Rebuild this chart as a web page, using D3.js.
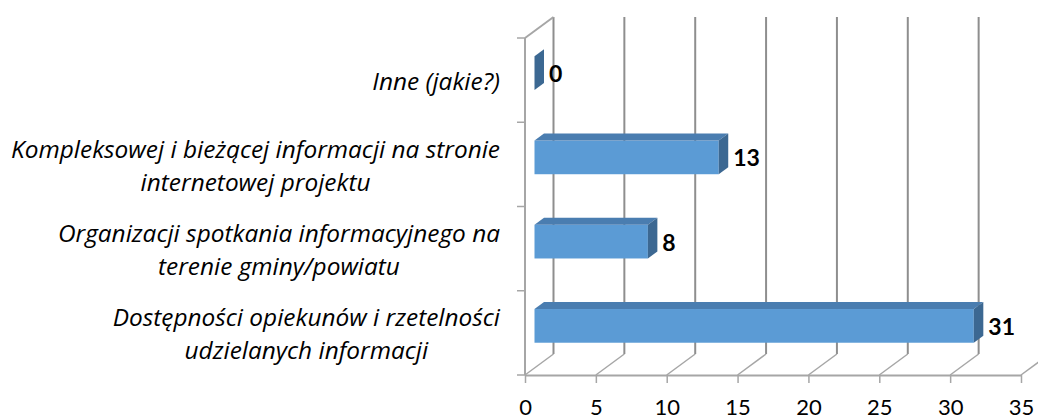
<!DOCTYPE html>
<html>
<head>
<meta charset="utf-8">
<script src="https://cdn.jsdelivr.net/npm/d3@7"></script>
<style>
  body { margin: 0; background: #fff; }
  svg { display: block; }
</style>
</head>
<body>
<svg id="chart" width="1038" height="420"></svg>
<script>
// categories from bottom to top, "\n" marks the line break of the label
const categories = [
  'Dostępności opiekunów i rzetelności\nudzielanych informacji',
  'Organizacji spotkania informacyjnego na\nterenie gminy/powiatu',
  'Kompleksowej i bieżącej informacji na stronie\ninternetowej projektu',
  'Inne (jakie?)',
]
const values = [31, 8, 13, 0]
const xTicks = [0, 5, 10, 15, 20, 25, 30, 35]

const plot = { left: 525, right: 1021, top: 38, bottom: 375 }
// 3d depth of the box (back wall offset)
const depth = { dx: 28.5, dy: -21 }
const labelRight = 500
const font = 'Lato, "Open Sans", sans-serif'
const labelFont = '"Open Sans", sans-serif'

const colors = {
  front: '#5b9bd5',
  top: '#4a7db0',
  side: '#3c6892',
  grid: '#8e8e8e',
  floor: '#a6a6a6',
}

const svg = d3.select('#chart')

const x = d3.scaleLinear().domain([0, 35]).range([plot.left, plot.right])
const y = d3
  .scaleBand()
  .domain(categories)
  .range([plot.bottom, plot.top])
  .paddingInner(0.6)
  .paddingOuter(0.3)

// back wall gridlines
svg
  .append('g')
  .attr('id', 'grid')
  .selectAll('line')
  .data(xTicks)
  .join('line')
  .attr('x1', (d) => x(d) + depth.dx)
  .attr('x2', (d) => x(d) + depth.dx)
  .attr('y1', plot.top + depth.dy)
  .attr('y2', plot.bottom + depth.dy)
  .attr('stroke', colors.grid)
  .attr('stroke-width', 2)

// floor diagonals
svg
  .append('g')
  .attr('id', 'floor')
  .selectAll('line')
  .data(xTicks)
  .join('line')
  .attr('x1', (d) => x(d))
  .attr('y1', plot.bottom)
  .attr('x2', (d) => x(d) + depth.dx)
  .attr('y2', plot.bottom + depth.dy)
  .attr('stroke', colors.floor)
  .attr('stroke-width', 1.5)

// left wall
const wall = svg.append('g').attr('id', 'leftWall')
wall
  .append('line')
  .attr('x1', plot.left)
  .attr('x2', plot.left)
  .attr('y1', plot.top)
  .attr('y2', plot.bottom)
  .attr('stroke', colors.floor)
  .attr('stroke-width', 2)
wall
  .append('line')
  .attr('x1', plot.left)
  .attr('y1', plot.top)
  .attr('x2', plot.left + depth.dx)
  .attr('y2', plot.top + depth.dy)
  .attr('stroke', colors.floor)
  .attr('stroke-width', 2)

// category ticks on the band boundaries
const step = y.step()
wall
  .selectAll('.catTick')
  .data(d3.range(categories.length + 1))
  .join('line')
  .attr('class', 'catTick')
  .attr('x1', plot.left - 8)
  .attr('x2', plot.left)
  .attr('y1', (i) => plot.bottom - i * step)
  .attr('y2', (i) => plot.bottom - i * step)
  .attr('stroke', colors.floor)
  .attr('stroke-width', 1.5)

// x axis
const xAxis = svg
  .append('g')
  .attr('id', 'xAxis')
  .attr('transform', `translate(0,${plot.bottom})`)
  .call(
    d3.axisBottom(x).tickValues(xTicks).tickSize(8).tickSizeOuter(0).tickPadding(16)
  )
xAxis.select('.domain').attr('stroke', colors.floor).attr('stroke-width', 2)
xAxis.selectAll('.tick line').attr('stroke', colors.floor).attr('stroke-width', 1.5)
xAxis
  .selectAll('.tick text')
  .attr('font-family', font)
  .attr('font-size', 22)
  .attr('fill', '#000')

// bars
const bdx = depth.dx / 3
const bdy = depth.dy / 3
const bars = svg
  .append('g')
  .attr('id', 'bars')
  .selectAll('g')
  .data(categories.map((c, i) => ({ cat: c, value: values[i] })))
  .join('g')

bars.each(function (d) {
  const g = d3.select(this)
  const x0 = x(0) + bdx
  const x1 = x(d.value) + bdx
  const yTop = y(d.cat) + bdy
  const yBot = yTop + y.bandwidth()

  g.append('rect')
    .attr('x', x0)
    .attr('y', yTop)
    .attr('width', x1 - x0)
    .attr('height', yBot - yTop)
    .attr('fill', colors.front)

  g.append('polygon')
    .attr(
      'points',
      [
        [x0, yTop],
        [x0 + bdx, yTop + bdy],
        [x1 + bdx, yTop + bdy],
        [x1, yTop],
      ].join(' ')
    )
    .attr('fill', colors.top)

  g.append('polygon')
    .attr(
      'points',
      [
        [x1, yTop],
        [x1 + bdx, yTop + bdy],
        [x1 + bdx, yBot + bdy],
        [x1, yBot],
      ].join(' ')
    )
    .attr('fill', colors.side)

  // value label
  g.append('text')
    .attr('x', x1 + bdx + 5)
    .attr('y', (yTop + yBot) / 2 + 1)
    .attr('dy', '0.35em')
    .attr('font-family', font)
    .attr('font-weight', 'bold')
    .attr('font-size', 23)
    .attr('fill', '#000')
    .text(d.value)
})

// category labels, lines centered on each other, block right aligned
const lineGap = 33
const labels = svg.append('g').attr('id', 'catLabels')
categories.forEach((c) => {
  const lines = c.split('\n')
  const cy = y(c) + y.bandwidth() / 2 + 1.5
  const texts = lines.map((line, i) =>
    labels
      .append('text')
      .attr('y', cy + (i - (lines.length - 1) / 2) * lineGap)
      .attr('dy', '0.35em')
      .attr('font-family', labelFont)
      .attr('font-style', 'italic')
      .attr('font-size', 24.4)
      .attr('fill', '#000')
      .attr('text-anchor', 'middle')
      .text(line)
  )
  const w = d3.max(texts, (t) => t.node().getComputedTextLength())
  texts.forEach((t) => t.attr('x', labelRight - w / 2))
})
</script>
</body>
</html>
